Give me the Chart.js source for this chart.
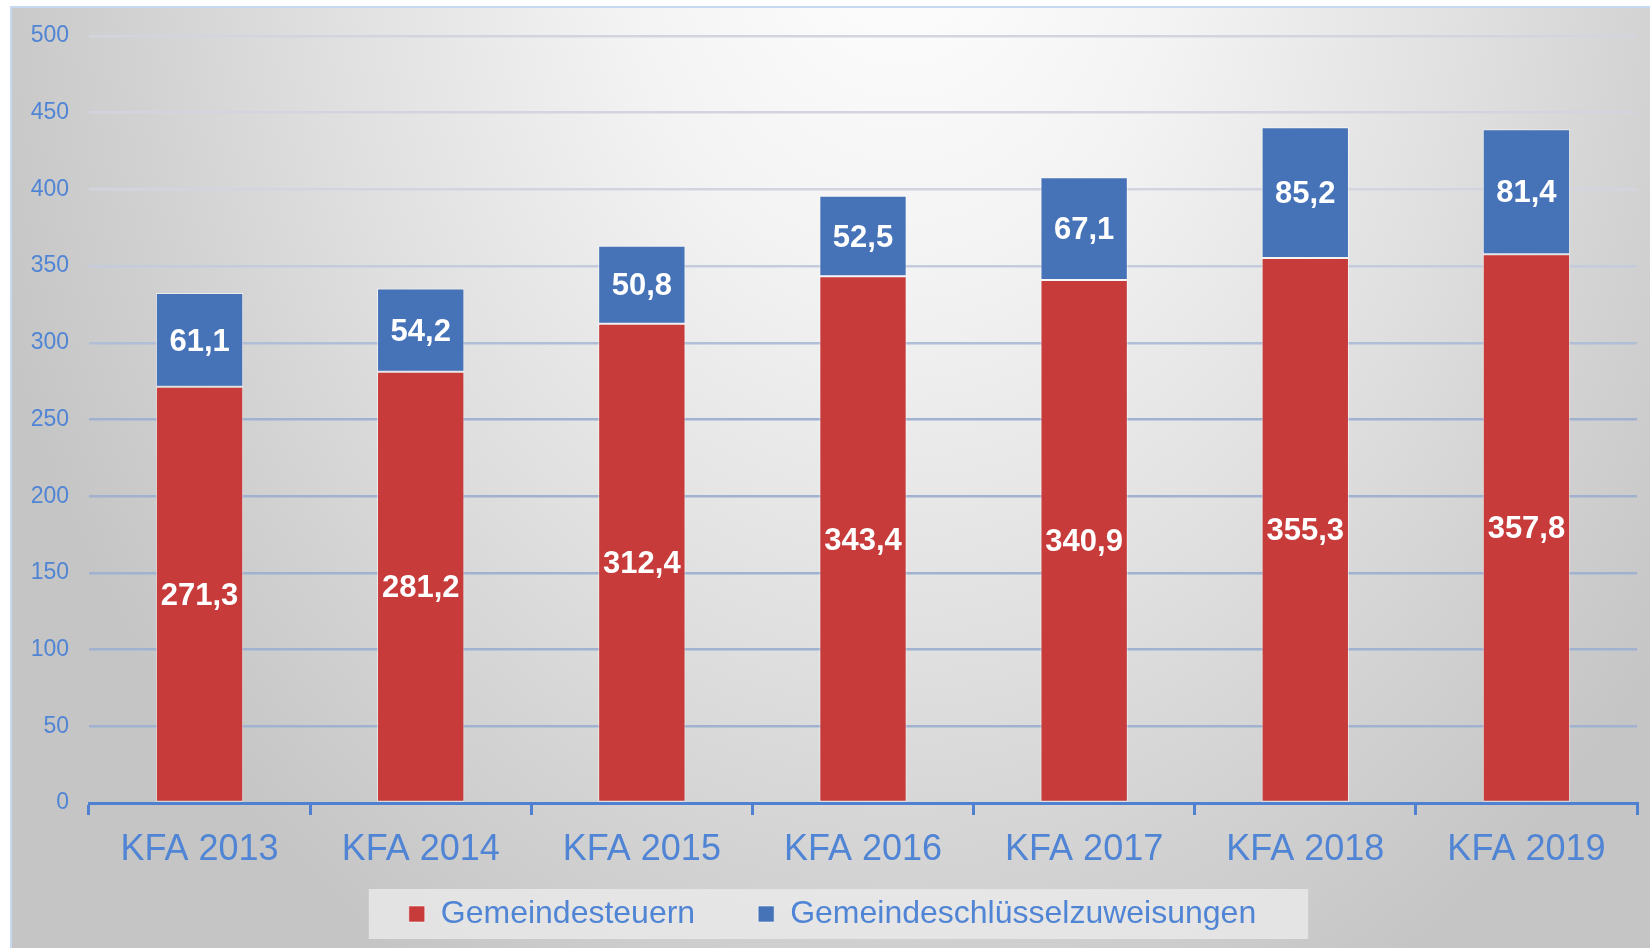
<!DOCTYPE html>
<html>
<head>
<meta charset="utf-8">
<script src="https://cdn.jsdelivr.net/npm/chart.js@4/dist/chart.umd.min.js"></script>
<style>
  html, body { margin: 0; padding: 0; background: #fff; }
  #wrap { width: 1650px; height: 948px; }
</style>
</head>
<body>
<div id="wrap"><canvas id="myChart"></canvas></div>
<script>
// Werte aus der Grafik (Mio. Euro)
const categories = ['KFA 2013', 'KFA 2014', 'KFA 2015', 'KFA 2016', 'KFA 2017', 'KFA 2018', 'KFA 2019'];
const steuern = [271.3, 281.2, 312.4, 343.4, 340.9, 355.3, 357.8];
const zuweisungen = [61.1, 54.2, 50.8, 52.5, 67.1, 85.2, 81.4];
const seriesNames = ['Gemeindesteuern', 'Gemeindeschlüsselzuweisungen'];

const font = '"Liberation Sans", Arial, sans-serif';
const textBlue = '#5084d4';

// hintergrund + rahmen + legendenkasten
const background = {
  id: 'background',
  beforeDraw(chart) {
    const ctx = chart.ctx;
    const w = chart.width, h = chart.height;
    ctx.save();
    ctx.fillStyle = '#fff';
    ctx.fillRect(0, 0, w, h);
    // elliptischer verlauf, oben mitte hell
    ctx.save();
    ctx.scale(1, 1.3);
    const g = ctx.createRadialGradient(900, -80, 0, 900, -80, 960);
    g.addColorStop(0, '#ffffff');
    g.addColorStop(0.3, '#f3f3f3');
    g.addColorStop(0.6, '#e0e0e0');
    g.addColorStop(0.8, '#d2d2d2');
    g.addColorStop(1, '#c5c5c5');
    ctx.fillStyle = g;
    ctx.fillRect(12, 8 / 1.3, w - 12, h / 1.3);
    ctx.restore();
    ctx.strokeStyle = '#c6d9f1';
    ctx.lineWidth = 2;
    ctx.beginPath();
    ctx.moveTo(11, h);
    ctx.lineTo(11, 7);
    ctx.lineTo(w, 7);
    ctx.stroke();

    const boxes = chart.legend && chart.legend.legendHitBoxes;
    if (boxes && boxes.length) {
      const first = boxes[0], last = boxes[boxes.length - 1];
      const left = first.left - 40;
      const right = last.left + last.width + 52;
      const cy = first.top + first.height / 2;
      ctx.fillStyle = 'rgba(236,236,236,0.75)';
      ctx.fillRect(left, cy - 25, right - left, 50);
    }
    ctx.restore();
  }
};

// werte in den balken
const valueLabels = {
  id: 'valueLabels',
  afterDatasetsDraw(chart) {
    const ctx = chart.ctx;
    ctx.save();
    ctx.font = 'bold 31px ' + font;
    ctx.fillStyle = '#fff';
    ctx.textAlign = 'center';
    ctx.textBaseline = 'middle';
    chart.data.datasets.forEach((ds, i) => {
      chart.getDatasetMeta(i).data.forEach((bar, j) => {
        const p = bar.getProps(['x', 'y', 'base'], true);
        ctx.fillText(ds.data[j].toFixed(1).replace('.', ','), p.x, (p.y + p.base) / 2 + 2);
      });
    });
    ctx.restore();
  }
};

function gridColor(c) {
  const v = c.tick ? c.tick.value : 0;
  if (v >= 400) return 'rgb(210,213,222)';
  if (v >= 350) return 'rgb(196,204,219)';
  if (v >= 300) return 'rgb(176,190,214)';
  return 'rgb(160,178,208)';
}

const context = document.getElementById('myChart');

const myChart = new Chart(context, {
  type: 'bar',
  data: {
    labels: categories,
    datasets: [{
      label: seriesNames[0],
      data: steuern,
      backgroundColor: '#c83b3b',
      borderColor: 'rgba(255,255,255,0.55)',
      borderWidth: 1,
      borderSkipped: false
    }, {
      label: seriesNames[1],
      data: zuweisungen,
      backgroundColor: '#4673b8',
      borderColor: 'rgba(255,255,255,0.55)',
      borderWidth: 1,
      borderSkipped: false
    }]
  },
  options: {
    responsive: true,
    maintainAspectRatio: false,
    animation: false,
    categoryPercentage: 1,
    barPercentage: 0.395,
    layout: { padding: { left: 28, top: 36, right: 13, bottom: 8 } },
    scales: {
      x: {
        stacked: true,
        grid: {
          offset: true,
          drawOnChartArea: false,
          drawTicks: true,
          tickLength: 12,
          lineWidth: 3,
          color: '#5080d0'
        },
        border: { display: true, color: '#5080d0', width: 3 },
        ticks: {
          color: textBlue,
          font: { family: font, size: 36 },
          maxRotation: 0,
          // unter die achse gespiegelt, damit die legende darunter passt
          mirror: true,
          padding: -69
        },
        afterFit(scale) { scale.height = 32; }
      },
      y: {
        stacked: true,
        min: 0,
        max: 500,
        ticks: {
          stepSize: 50,
          color: textBlue,
          font: { family: font, size: 23 },
          padding: 20
        },
        grid: {
          drawTicks: false,
          lineWidth: 2.5,
          color: gridColor
        },
        border: { display: false },
        afterFit(scale) { scale.width = 61; }
      }
    },
    plugins: {
      legend: {
        position: 'bottom',
        labels: {
          color: textBlue,
          font: { family: font, size: 32 },
          boxWidth: 16,
          boxHeight: 16,
          padding: 63
        }
      },
      tooltip: { enabled: false }
    }
  },
  plugins: [background, valueLabels]
});
</script>
</body>
</html>
